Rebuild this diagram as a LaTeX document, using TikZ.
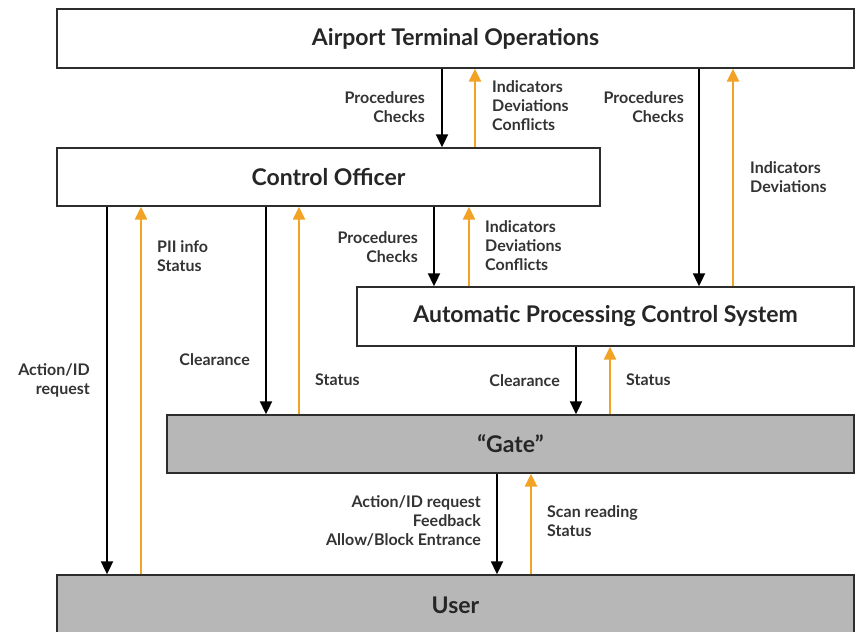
\documentclass[tikz,border=0pt]{standalone}
\usepackage{fontspec}
\setmainfont{Lato}
\usetikzlibrary{arrows.meta}
\definecolor{orng}{RGB}{242,163,38}
\definecolor{gfill}{RGB}{183,183,183}
\definecolor{bord}{RGB}{45,45,45}
\tikzset{
  box/.style={draw=bord, line width=1.4pt, inner sep=0pt, font=\fontsize{23}{26}\selectfont\bfseries, text=black!85},
  wbox/.style={box, fill=white},
  gbox/.style={box, fill=gfill},
  blk/.style={draw=black, line width=2pt, -{Triangle[length=13pt,width=12pt]}},
  org/.style={draw=orng, line width=2.5pt, -{Triangle[length=13pt,width=12pt]}},
  lbl/.style={inner sep=0pt, font=\fontsize{16}{19}\selectfont\bfseries, text=black!80},
  lr/.style={lbl, align=right, anchor=east},
  ll/.style={lbl, align=left, anchor=west},
}
\begin{document}
\begin{tikzpicture}[x=1pt,y=-1pt]
\useasboundingbox (0,0) rectangle (858,631);
% boxes
\node[wbox, minimum width=797pt, minimum height=59pt] (ato) at (455.5,38.5) {Airport Terminal Operations};
\node[wbox, minimum width=543pt, minimum height=58pt] (co) at (328.5,177) {Control Officer};
\node[wbox, minimum width=497pt, minimum height=59pt] (apcs) at (605.5,316.5) {Automatic Processing Control System};
\node[gbox, minimum width=687pt, minimum height=58pt] (gate) at (510.5,444) {``Gate''};
\node[gbox, minimum width=797pt, minimum height=64pt] (user) at (455.5,607) {};
\node[inner sep=0pt, font=\fontsize{23}{26}\selectfont\bfseries, text=black!85] (usertxt) at (455.5,605) {User};
% ATO <-> CO
\draw[blk] (ato.south -| 442,0) -- (co.north -| 442,0);
\draw[org] (co.north -| 475,0) -- (ato.south -| 475,0);
% ATO <-> APCS
\draw[blk] (ato.south -| 699,0) -- (apcs.north -| 699,0);
\draw[org] (apcs.north -| 733,0) -- (ato.south -| 733,0);
% CO <-> User
\draw[blk] (co.south -| 107,0) -- (user.north -| 107,0);
\draw[org] (user.north -| 141,0) -- (co.south -| 141,0);
% CO <-> Gate
\draw[blk] (co.south -| 266,0) -- (gate.north -| 266,0);
\draw[org] (gate.north -| 299,0) -- (co.south -| 299,0);
% CO <-> APCS
\draw[blk] (co.south -| 434,0) -- (apcs.north -| 434,0);
\draw[org] (apcs.north -| 469,0) -- (co.south -| 469,0);
% APCS <-> Gate
\draw[blk] (apcs.south -| 576,0) -- (gate.north -| 576,0);
\draw[org] (gate.north -| 610,0) -- (apcs.south -| 610,0);
% Gate <-> User
\draw[blk] (gate.south -| 497,0) -- (user.north -| 497,0);
\draw[org] (user.north -| 531,0) -- (gate.south -| 531,0);
% labels
\node[lr] (l1) at (425,107) {Procedures\\Checks};
\node[ll] (l2) at (492,106) {Indicators\\Deviations\\Conflicts};
\node[lr] (l3) at (684,107) {Procedures\\Checks};
\node[ll] (l4) at (750,177) {Indicators\\Deviations};
\node[ll] (l5) at (157,256) {PII info\\Status};
\node[lr] (l6) at (418,247) {Procedures\\Checks};
\node[ll] (l7) at (485,246) {Indicators\\Deviations\\Conflicts};
\node[lr] (l8) at (250,360) {Clearance};
\node[ll] (l9) at (315,380) {Status};
\node[lr] (l10) at (90,380) {Action/ID\\request};
\node[lr] (l11) at (560,381) {Clearance};
\node[ll] (l12) at (626,380) {Status};
\node[lr] (l13) at (481,521) {Action/ID request\\Feedback\\Allow/Block Entrance};
\node[ll] (l14) at (547,521) {Scan reading\\Status};
\end{tikzpicture}
\end{document}
